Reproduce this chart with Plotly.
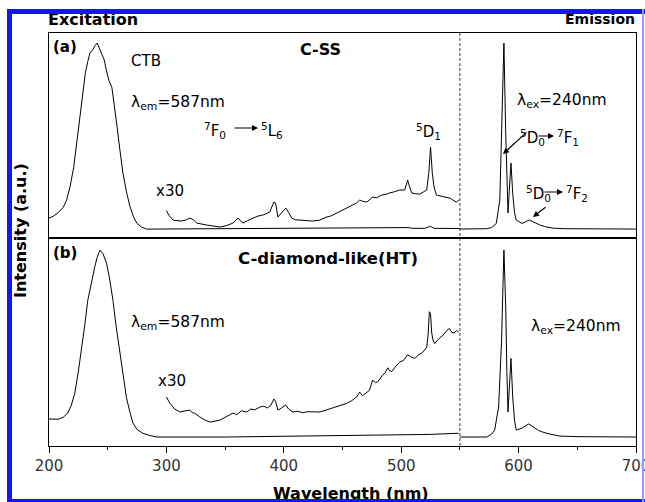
import plotly.graph_objects as go

# ---------------- data ----------------
# (a) C-SS, excitation monitored at 587 nm
exc_a_wl = [200, 204, 208, 212, 215, 218, 221, 224, 227, 229, 231, 233, 235, 237, 239, 241,
            243, 245, 247, 249, 251, 253.6, 256, 258, 260.5, 263, 266, 269, 272, 275, 279, 283,
            290, 350, 400, 450, 500, 506, 510, 520, 525, 528, 550]
exc_a_int = [0.059, 0.07, 0.09, 0.115, 0.156, 0.23, 0.33, 0.48, 0.64, 0.74, 0.84, 0.90, 0.95,
             0.96, 0.985, 1.0, 0.97, 0.95, 0.91, 0.85, 0.80, 0.76, 0.66, 0.55, 0.42, 0.30, 0.20,
             0.12, 0.065, 0.03, 0.01, 0.0, 0.0, 0.002, 0.003, 0.004, 0.004, 0.008, 0.004, 0.004,
             0.015, 0.004, 0.003]

# (a) excitation, 300-550 nm magnified x30
x30_a_wl = [300, 302, 305.7, 310, 313, 317, 320, 323, 326, 334, 340, 345.5, 351, 356.6, 361, 365,
            369, 373.6, 378, 382, 386, 388, 391.5, 393, 395, 398, 401.7, 404, 406.8, 410, 413.6,
            419, 424.7, 430.6, 436.6, 440, 445, 450, 455, 458.7, 462, 464.7, 467, 470.6, 473,
            475.7, 479, 483.4, 487, 490, 494, 498.7, 503, 505.5, 507, 509, 512, 515.7, 519,
            521.7, 523.5, 525, 526.5, 528, 530, 534, 538.7, 542, 545, 547, 549]
x30_a_int = [0.10, 0.075, 0.048, 0.045, 0.043, 0.05, 0.059, 0.05, 0.032, 0.022, 0.015, 0.011,
             0.018, 0.032, 0.059, 0.032, 0.045, 0.059, 0.07, 0.075, 0.085, 0.091, 0.145, 0.14,
             0.065, 0.086, 0.113, 0.09, 0.059, 0.05, 0.048, 0.045, 0.043, 0.048, 0.065, 0.07,
             0.086, 0.10, 0.115, 0.129, 0.14, 0.156, 0.15, 0.145, 0.16, 0.172, 0.168, 0.183,
             0.186, 0.194, 0.20, 0.21, 0.21, 0.263, 0.23, 0.194, 0.19, 0.188, 0.20, 0.21, 0.30,
             0.44, 0.30, 0.226, 0.183, 0.178, 0.172, 0.165, 0.152, 0.145, 0.156]

# (a) emission, excited at 240 nm
em_a_wl = [550, 560, 572.8, 577, 581, 584, 586.4, 587.5, 589, 590, 591, 592, 593.5, 595, 596.5,
           598, 600, 603, 606, 609, 612, 615, 618, 622, 629, 640, 660, 700]
em_a_int = [0.0, 0.0, 0.002, 0.008, 0.03, 0.156, 0.69, 1.0, 0.52, 0.25, 0.086, 0.2, 0.355, 0.19,
            0.09, 0.048, 0.04, 0.03, 0.04, 0.048, 0.04, 0.03, 0.022, 0.014, 0.005, 0.002, 0.0, 0.0]

# (b) C-diamond-like(HT), excitation monitored at 587 nm
exc_b_wl = [200, 204, 208, 212, 216, 219, 222, 225, 228, 230.5, 233, 236, 239, 241, 243.4, 246,
            249, 251.5, 254.5, 257, 260, 263, 266, 269, 271.5, 275, 280, 286, 292, 350, 400,
            450, 500, 525, 540, 549]
exc_b_int = [0.096, 0.095, 0.095, 0.105, 0.128, 0.17, 0.235, 0.35, 0.48, 0.60, 0.73, 0.83, 0.91,
             0.96, 1.0, 0.98, 0.93, 0.85, 0.73, 0.60, 0.465, 0.33, 0.21, 0.13, 0.075, 0.04, 0.02,
             0.008, 0.0, 0.0, 0.003, 0.006, 0.01, 0.014, 0.018, 0.02]

# (b) excitation, 300-550 nm magnified x30
x30_b_wl = [300, 303, 307, 311.5, 316, 320, 322, 324, 328.5, 333, 337, 341, 345.5, 350, 356.6,
            360, 364, 368.5, 372, 375, 379.6, 383, 386, 389, 391.5, 393, 395, 398, 401.7, 404,
            407.7, 412, 416, 420, 424.7, 430.6, 436, 441.7, 446, 450, 453.6, 458, 462, 464.7,
            467, 470, 473, 475.7, 478, 480, 484, 486, 488.5, 490, 492, 495, 498.7, 502, 505.5,
            508, 511.5, 515, 518, 521.7, 523, 524, 525, 526, 527, 528.5, 531, 532.8, 535, 537,
            539, 541, 543, 545, 547, 549]
x30_b_int = [0.214, 0.18, 0.15, 0.134, 0.14, 0.144, 0.13, 0.128, 0.107, 0.09, 0.08, 0.085, 0.09,
             0.105, 0.128, 0.12, 0.14, 0.134, 0.15, 0.145, 0.16, 0.165, 0.155, 0.17, 0.203, 0.19,
             0.144, 0.155, 0.171, 0.15, 0.134, 0.138, 0.13, 0.135, 0.134, 0.134, 0.144, 0.155,
             0.165, 0.172, 0.18, 0.195, 0.214, 0.24, 0.22, 0.235, 0.25, 0.305, 0.29, 0.295, 0.33,
             0.34, 0.37, 0.355, 0.35, 0.375, 0.40, 0.41, 0.44, 0.43, 0.42, 0.44, 0.45, 0.48,
             0.55, 0.67, 0.66, 0.556, 0.52, 0.50, 0.52, 0.53, 0.54, 0.556, 0.57, 0.58, 0.56,
             0.556, 0.57, 0.56]

# (b) emission, excited at 240 nm
em_b_wl = [550, 560, 572.8, 577, 579.6, 583, 585.5, 587.5, 589, 590, 591, 592, 593.5, 595,
           596.5, 598, 600, 603, 606, 608.5, 611, 613.6, 617, 620.4, 625, 635, 650, 700]
em_b_int = [0.0, 0.0, 0.0, 0.015, 0.037, 0.16, 0.52, 1.0, 0.70, 0.35, 0.134, 0.25, 0.42, 0.214,
            0.09, 0.037, 0.04, 0.048, 0.06, 0.07, 0.06, 0.048, 0.035, 0.027, 0.018, 0.005,
            0.002, 0.0]

tick_vals = [200, 300, 400, 500, 600, 700]
tick_text = ["200", "300", "400", "500", "600", "700"]

# ---------------- geometry helpers (pixel -> paper) ----------------
W, H = 645, 502
L, R, T, B = 49, 636, 33, 446
MID = 238
FONT = "DejaVu Sans"


def fx(px):
    return (px - L) / (R - L)


def fy(py):
    return (B - py) / (B - T)


fig = go.Figure()
line = dict(color="black", width=1)
for xs, ys, ax in [(exc_a_wl, exc_a_int, 2), (x30_a_wl, x30_a_int, 2), (em_a_wl, em_a_int, 2),
                   (exc_b_wl, exc_b_int, 1), (x30_b_wl, x30_b_int, 1), (em_b_wl, em_b_int, 1)]:
    fig.add_trace(go.Scatter(
        x=xs, y=ys, mode="lines", line=line, showlegend=False, hoverinfo="skip",
        xaxis="x" if ax == 1 else "x2", yaxis="y" if ax == 1 else "y2"))

split = fy(MID)
axline = dict(showline=True, mirror=True, linecolor="black", linewidth=1.3,
              showgrid=False, zeroline=False, automargin=False)
fig.update_layout(
    width=W, height=H,
    margin=dict(l=L, r=W - R, t=T, b=H - B, pad=0, autoexpand=False),
    paper_bgcolor="white", plot_bgcolor="white",
    xaxis=dict(domain=[0, 1], range=[200, 700], anchor="y", **axline,
               tickmode="array", tickvals=tick_vals, ticktext=tick_text,
               ticks="outside", ticklen=6, tickwidth=1, tickcolor="black",
               ticklabeloverflow="allow",
               minor=dict(ticks="outside", ticklen=3, tickwidth=1, dtick=50, tick0=200,
                          tickcolor="black"),
               tickfont=dict(family=FONT, size=15, color="#333333")),
    xaxis2=dict(domain=[0, 1], range=[200, 700], anchor="y2", **axline,
                showticklabels=False, ticks=""),
    yaxis=dict(domain=[0, split], range=[-0.048, 1.064], anchor="x", **axline,
               showticklabels=False, ticks=""),
    yaxis2=dict(domain=[split, 1], range=[-0.048, 1.054], anchor="x2", **axline,
                showticklabels=False, ticks=""),
)

# dashed divider between excitation and emission regions
fig.add_shape(type="line", xref="x", yref="paper", x0=550, x1=550, y0=0, y1=1,
              line=dict(color="#333333", width=1, dash="3px,2px"))

annots = []


def text(t, px, py, size=15, bold=False, xanchor="left", angle=0):
    if bold:
        t = "<b>" + t + "</b>"
    annots.append(dict(text=t, x=fx(px), y=fy(py), xref="paper", yref="paper",
                       xanchor=xanchor, yanchor="middle", showarrow=False, textangle=angle,
                       font=dict(family=FONT, size=size, color="black")))


def arrow(px0, py0, px1, py1):
    annots.append(dict(text="", x=fx(px1), y=fy(py1), xref="paper", yref="paper",
                       ax=px0 - px1, ay=py0 - py1, showarrow=True, arrowhead=2,
                       arrowsize=1, arrowwidth=1.2, arrowcolor="black"))


# headers and axis titles
text("Excitation", 46, 19, size=16, bold=True)
text("Emission", 637, 19, size=14, bold=True, xanchor="right")
text("Wavelength (nm)", 351, 493, size=16, bold=True, xanchor="center")
text("Intensity (a.u.)", 20, 231, size=16, bold=True, xanchor="center", angle=-90)

# panel (a)
text("(a)", 51, 47, size=15, bold=True)
text("C-SS", 298, 50, size=16, bold=True)
text("CTB", 129, 61, size=15)
text("λ<sub>em</sub>=587nm", 129, 103, size=15.5)
text("<sup>7</sup>F<sub>0</sub>", 202, 130, size=15)
arrow(233, 128, 258, 128)
text("<sup>5</sup>L<sub>6</sub>", 259, 130, size=15)
text("x30", 154, 191, size=15)
text("<sup>5</sup>D<sub>1</sub>", 414, 131, size=15)
text("λ<sub>ex</sub>=240nm", 515, 101, size=15.5)
text("<sup>5</sup>D<sub>0</sub>", 518, 137, size=15)
arrow(537, 136, 554, 136)
text("<sup>7</sup>F<sub>1</sub>", 555, 137, size=15)
arrow(528, 131, 503, 154)
text("<sup>5</sup>D<sub>0</sub>", 524, 193, size=15)
arrow(543, 192, 563, 192)
text("<sup>7</sup>F<sub>2</sub>", 564, 193, size=15)
arrow(547, 206, 533, 217)

# panel (b)
text("(b)", 51, 253, size=15, bold=True)
text("C-diamond-like(HT)", 236, 258, size=16.5, bold=True)
text("λ<sub>em</sub>=587nm", 129, 323, size=15.5)
text("x30", 156, 381, size=15)
text("λ<sub>ex</sub>=240nm", 529, 327, size=15.5)


# blue selection frame around the figure, drawn on top of the text
def band(px0, py0, px1, py1, color):
    annots.append(dict(text=" ", x=fx(px0), y=fy(py0), xref="paper", yref="paper",
                       xanchor="left", yanchor="top", showarrow=False,
                       width=px1 - px0, height=py1 - py0, bgcolor=color,
                       borderpad=0, borderwidth=0, font=dict(size=1)))


band(7, 9, 645, 14, "#1414ff")
band(7, 9, 12, 502, "#1414ff")
band(7, 499, 645, 502, "#1414ff")
band(642, 9, 644, 502, "#9a9aff")

fig.update_layout(annotations=annots)
fig.write_html("out.html")
